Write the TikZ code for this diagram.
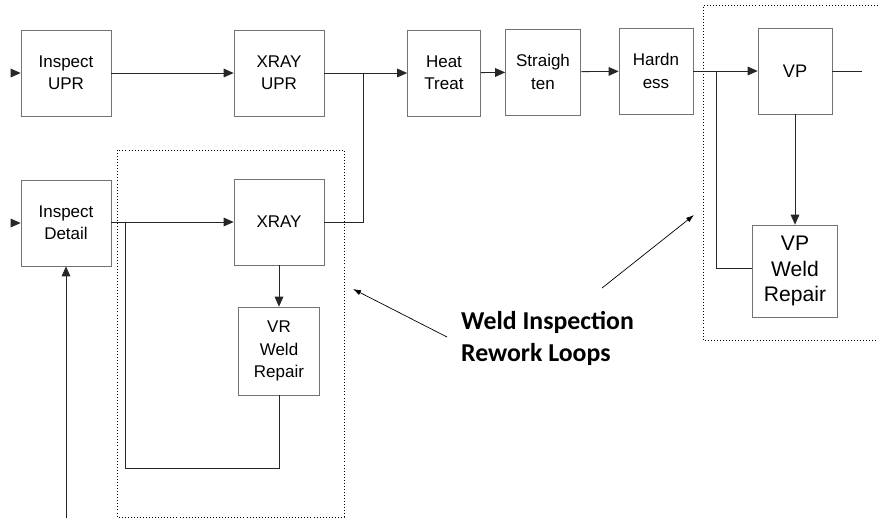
\documentclass[tikz,border=0pt]{standalone}
\usepackage{fontspec}
\setmainfont{Liberation Sans}
\newfontfamily\notefont{Carlito}
\usetikzlibrary{arrows.meta,positioning}
\tikzset{
  stepbox/.style={draw=black!55, line width=0.6pt, rectangle, align=center,
              inner sep=1pt, font=\fontsize{14.5}{19}\selectfont,
              minimum width=2.7cm, minimum height=2.58cm},
  bigbox/.style={stepbox, font=\fontsize{18}{22}\selectfont},
  group/.style={draw, dotted, line width=0.6pt},
  flow/.style={draw=black!85, line width=0.7pt},
  own/.style={flow, -{Triangle[length=3mm,width=2.6mm]}},
  pointer/.style={draw, line width=0.6pt, -{Latex[length=2.4mm,width=1.6mm]}},
}

\begin{document}
\begin{tikzpicture}[x=0.03cm, y=-0.03cm]
  \useasboundingbox (0,0) rectangle (878,518);
  % rework loop groups
  \draw[group] (117,150) rectangle (344,517);
  \draw[group] (878,5) -- (703,5) -- (703,340) -- (878,340);
  % main line
  \node[stepbox]                    (iu)  at (66,73)   {Inspect\\UPR};
  \node[stepbox]                    (xu)  at (279,73)  {XRAY\\UPR};
  \node[stepbox, minimum width=2.19cm] (ht) at (444,73) {Heat\\Treat};
  \node[stepbox, minimum width=2.25cm] (st) at (543,72) {Straigh\\ten};
  \node[stepbox, minimum width=2.22cm] (hd) at (656,71) {Hardn\\ess};
  \node[stepbox, minimum width=2.22cm, font=\fontsize{15.5}{18}\selectfont] (vp) at (795,71) {VP};
  \node[bigbox, minimum width=2.55cm, minimum height=2.76cm] (vpr) at (795,271) {VP\\Weld\\Repair};
  % detail line
  \node[stepbox]                    (id)  at (66,223)  {Inspect\\Detail};
  \node[stepbox]                    (xd)  at (279,222) {XRAY};
  \node[stepbox, minimum width=2.43cm, minimum height=2.64cm] (vr) at (279,351) {VR\\Weld\\Repair};
  \node[anchor=base west, align=left, font=\notefont\bfseries\fontsize{22}{26.5}\selectfont]
       (note) at (457,361) {Weld Inspection\\Rework Loops};
  % free ends and joins
  \coordinate (in1) at (11,73);
  \coordinate (in2) at (11,223);
  \coordinate (src) at (66,518);
  \coordinate (j)   at (363,73);
  \coordinate (lb)  at (125,468);
  \coordinate (lj)  at (125,222);
  \coordinate (rj)  at (716,71);
  \coordinate (out) at (862,71);
  \coordinate (a1)  at (447,337);
  \coordinate (t1)  at (353,289);
  \coordinate (a2)  at (602,288);
  \coordinate (t2)  at (694,215);
  \draw[own]  (in1) -- (iu);
  \draw[own]  (in2) -- (id);
  \draw[own]  (src) -- (id);
  \draw[own]  (iu)  -- (xu);
  \draw[own]  (xu)  -- (ht);
  \draw[flow] (xd.east) -| (j);
  \draw[own]  (ht)  -- (st);
  \draw[own]  (st)  -- (hd);
  \draw[own]  (hd)  -- (vp);
  \draw[flow] (vp)  -- (out);
  \draw[own]  (vp)  -- (vpr);
  \draw[flow] (vpr.west |- 0,268) -| (rj);
  \draw[own]  (id.east |- xd) -- (xd);
  \draw[own]  (xd)  -- (vr);
  \draw[flow] (vr.south) |- (lb) -- (lj);
  \draw[pointer] (a1) -- (t1);
  \draw[pointer] (a2) -- (t2);
\end{tikzpicture}
\end{document}
